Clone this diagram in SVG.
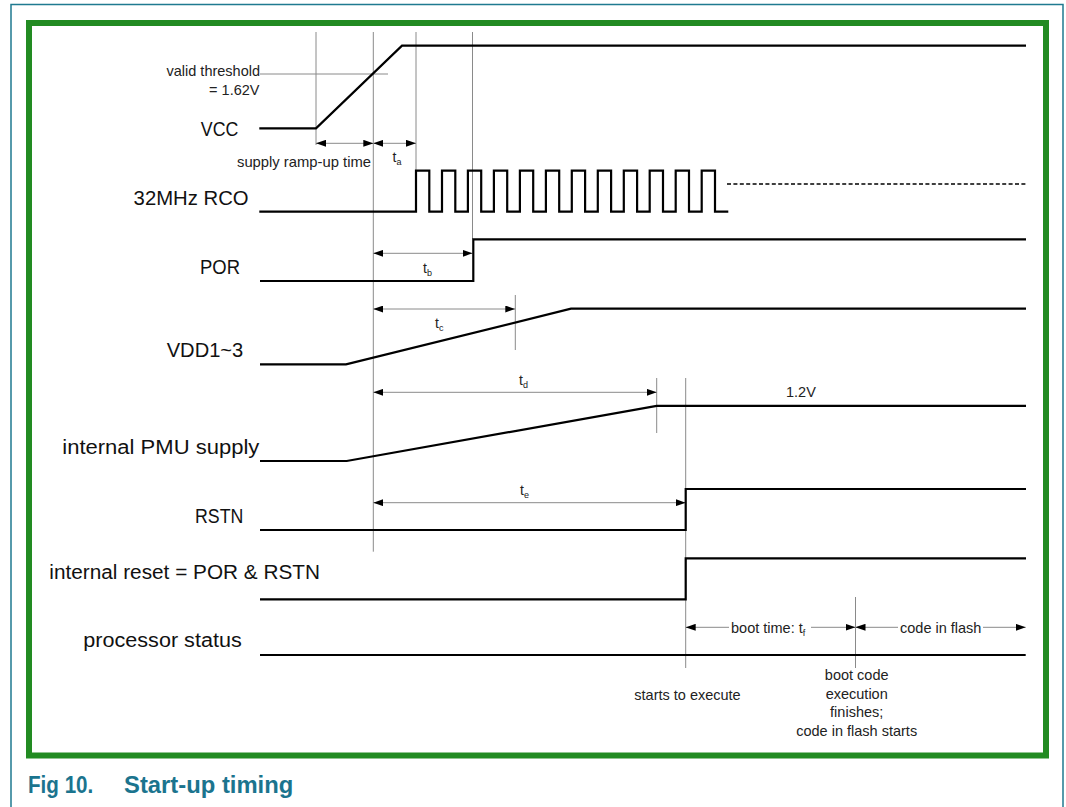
<svg xmlns="http://www.w3.org/2000/svg" width="1066" height="807" viewBox="0 0 1066 807">
<style>
.sig{fill:none;stroke:#000;stroke-width:2.2;stroke-linejoin:miter}
.guide{fill:none;stroke:#8a8a8a;stroke-width:1}
.arr{fill:none;stroke:#8a8a8a;stroke-width:1}
.big{font-family:"Liberation Sans",Arial,sans-serif;font-size:20px;fill:#111}
.small{font-family:"Liberation Sans",Arial,sans-serif;font-size:14.5px;fill:#222}
.tl{font-family:"Liberation Sans",Arial,sans-serif;font-size:14px;fill:#222}
.sub{font-size:9px}
.cap{font-family:"Liberation Sans",Arial,sans-serif;font-size:23px;font-weight:bold;fill:#1b748e}
</style>
<defs>
<marker id="ah" viewBox="0 0 10 7" refX="10" refY="3.5" markerWidth="10" markerHeight="7" markerUnits="userSpaceOnUse" orient="auto-start-reverse">
<path d="M0,0 L10,3.5 L0,7 z" fill="#000"/>
</marker>
</defs>
<rect width="1066" height="807" fill="#fff"/>
<g id="frame">
<path d="M11,812 V4.5 H1063 V812" fill="none" stroke="#1f7a90" stroke-width="1.5"/>
<rect x="29" y="23" width="1017" height="732.5" fill="none" stroke="#228b22" stroke-width="6"/>
</g>
<g id="connectors">
<line class="guide" x1="316" y1="32" x2="316" y2="145"/>
<line class="guide" x1="373.3" y1="32" x2="373.3" y2="551.7"/>
<line class="guide" x1="416" y1="32" x2="416" y2="170"/>
<line class="guide" x1="472.5" y1="32" x2="472.5" y2="239"/>
<line class="guide" x1="260" y1="74" x2="388" y2="74"/>
<line class="guide" x1="515.3" y1="295" x2="515.3" y2="350"/>
<line class="guide" x1="656.7" y1="378" x2="656.7" y2="433"/>
<line class="guide" x1="685.7" y1="378" x2="685.7" y2="668"/>
<line class="guide" x1="855.5" y1="597" x2="855.5" y2="668"/>
<line class="arr" x1="316" y1="143.3" x2="373.3" y2="143.3" marker-start="url(#ah)" marker-end="url(#ah)"/>
<line class="arr" x1="373.3" y1="143.3" x2="416" y2="143.3" marker-start="url(#ah)" marker-end="url(#ah)"/>
<line class="arr" x1="373.3" y1="253.3" x2="472.5" y2="253.3" marker-start="url(#ah)" marker-end="url(#ah)"/>
<line class="arr" x1="373.3" y1="309" x2="515.3" y2="309" marker-start="url(#ah)" marker-end="url(#ah)"/>
<line class="arr" x1="373.3" y1="392.3" x2="656.7" y2="392.3" marker-start="url(#ah)" marker-end="url(#ah)"/>
<line class="arr" x1="373.3" y1="502.7" x2="685.7" y2="502.7" marker-start="url(#ah)" marker-end="url(#ah)"/>
<line class="arr" x1="685.7" y1="627.3" x2="729" y2="627.3" marker-start="url(#ah)"/>
<line class="arr" x1="811" y1="627.3" x2="855.5" y2="627.3" marker-end="url(#ah)"/>
<line class="arr" x1="855.5" y1="627.3" x2="898" y2="627.3" marker-start="url(#ah)"/>
<line class="arr" x1="983" y1="627.3" x2="1025.7" y2="627.3" marker-end="url(#ah)"/>
<text class="small" x="260" y="76" text-anchor="end">valid threshold</text>
<text class="small" x="259.5" y="95" text-anchor="end">= 1.62V</text>
<text class="small" x="371" y="167" text-anchor="end" textLength="134" lengthAdjust="spacingAndGlyphs">supply ramp-up time</text>
<text class="tl" x="392.5" y="162">t<tspan class="sub" dy="3">a</tspan></text>
<text class="tl" x="423" y="273">t<tspan class="sub" dy="3">b</tspan></text>
<text class="tl" x="435" y="328">t<tspan class="sub" dy="3">c</tspan></text>
<text class="tl" x="519" y="385">t<tspan class="sub" dy="3">d</tspan></text>
<text class="tl" x="520" y="495">t<tspan class="sub" dy="3">e</tspan></text>
<text class="small" x="786" y="397">1.2V</text>
<text class="small" x="731" y="632.5">boot time: t<tspan class="sub" dy="3">f</tspan></text>
<text class="small" x="900" y="632.5">code in flash</text>
<text class="small" x="687.5" y="700" text-anchor="middle">starts to execute</text>
<text class="small" x="856.7" y="680" text-anchor="middle">boot code</text>
<text class="small" x="856.7" y="698.7" text-anchor="middle">execution</text>
<text class="small" x="856.7" y="717.4" text-anchor="middle">finishes;</text>
<text class="small" x="856.7" y="736" text-anchor="middle">code in flash starts</text>
</g>
<g id="vcc">
<text class="big" x="238.3" y="136" text-anchor="end" textLength="37.5" lengthAdjust="spacingAndGlyphs">VCC</text>
<path class="sig" d="M259.3,128.3 H316 L402,45.7 H1026"/>
</g>
<g id="rco">
<text class="big" x="248.6" y="205" text-anchor="end" textLength="115" lengthAdjust="spacingAndGlyphs">32MHz RCO</text>
<path class="sig" d="M259.3,211.7 H416 V170.7 H429.3 V211.7 H442 V170.7 H455.3 V211.7 H467.9 V170.7 H481.2 V211.7 H493.9 V170.7 H507.2 V211.7 H519.9 V170.7 H533.2 V211.7 H545.9 V170.7 H559.2 V211.7 H571.8 V170.7 H585.1 V211.7 H597.8 V170.7 H611.1 V211.7 H623.8 V170.7 H637.1 V211.7 H649.7 V170.7 H663 V211.7 H675.7 V170.7 H689 V211.7 H701.7 V170.7 H715 V211.7 H728.3"/>
<line x1="727" y1="184" x2="1025.5" y2="184" stroke="#000" stroke-width="1.6" stroke-dasharray="4,2.4"/>
</g>
<g id="por">
<text class="big" x="240" y="274" text-anchor="end" textLength="40" lengthAdjust="spacingAndGlyphs">POR</text>
<path class="sig" d="M260,281 H473.3 V239.3 H1026"/>
</g>
<g id="vdd">
<text class="big" x="243.3" y="356.7" text-anchor="end" textLength="76.6" lengthAdjust="spacingAndGlyphs">VDD1~3</text>
<path class="sig" d="M260,364.3 H346 L571,308.7 H1026"/>
</g>
<g id="pmu">
<text class="big" x="259.3" y="454" text-anchor="end" textLength="197" lengthAdjust="spacingAndGlyphs">internal PMU supply</text>
<path class="sig" d="M260,461 H346.7 L656.7,405.8 H1026"/>
</g>
<g id="rstn">
<text class="big" x="243.3" y="523.3" text-anchor="end" textLength="48.3" lengthAdjust="spacingAndGlyphs">RSTN</text>
<path class="sig" d="M260,530 H685.7 V489 H1026"/>
</g>
<g id="ireset">
<text class="big" x="49.3" y="579" textLength="270.7" lengthAdjust="spacingAndGlyphs">internal reset = POR &amp; RSTN</text>
<path class="sig" d="M260,599.3 H685.7 V558.3 H1026"/>
</g>
<g id="pstatus">
<text class="big" x="241.7" y="646.7" text-anchor="end" textLength="158.4" lengthAdjust="spacingAndGlyphs">processor status</text>
<path class="sig" d="M260,655 H1025.7"/>
</g>
<g id="caption">
<text class="cap" x="28" y="792.7" textLength="65.3" lengthAdjust="spacingAndGlyphs">Fig 10.</text>
<text class="cap" x="124" y="792.7" textLength="169.3" lengthAdjust="spacingAndGlyphs">Start-up timing</text>
</g>
</svg>
